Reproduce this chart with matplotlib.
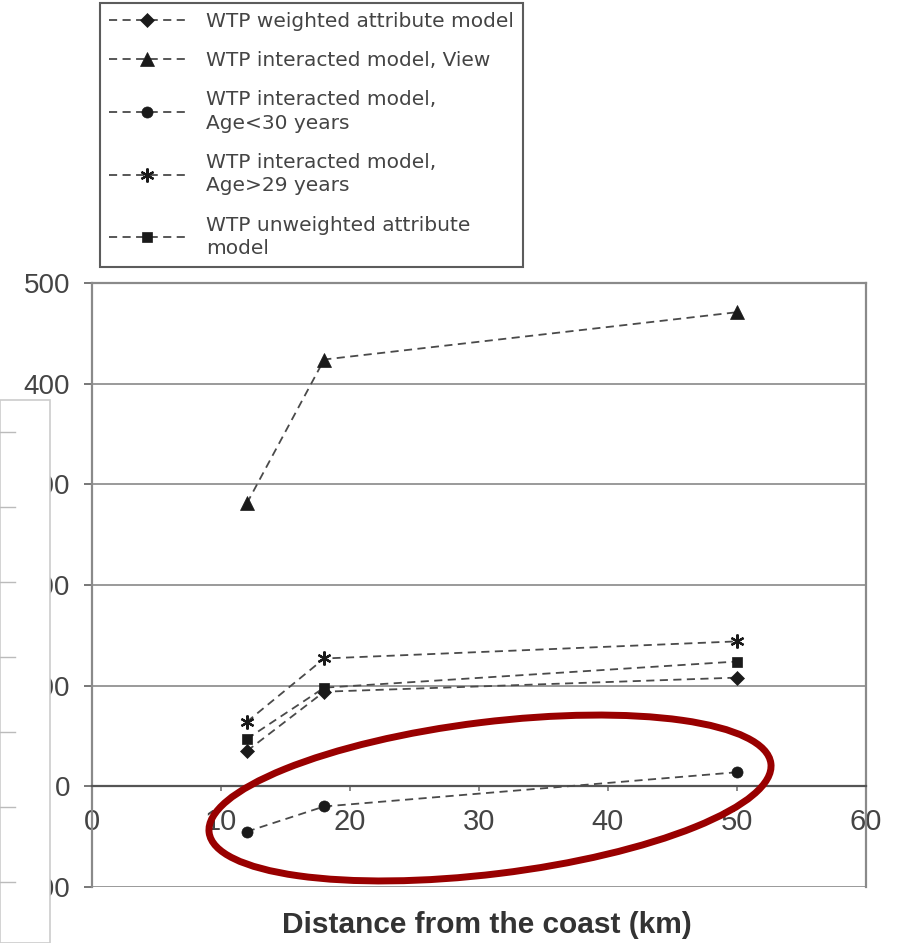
import matplotlib
matplotlib.use("Agg")
import matplotlib.pyplot as plt
from matplotlib.patches import Rectangle, Ellipse
from matplotlib.lines import Line2D

plt.rcParams['font.family'] = ['Liberation Sans', 'DejaVu Sans']

distance = [12, 18, 50]
wtp_weighted = [35, 94, 108]
wtp_view = [281, 424, 471]
wtp_age_lt30 = [-45, -20, 14]
wtp_age_gt29 = [64, 127, 144]
wtp_unweighted = [47, 98, 124]

labels = ["WTP weighted attribute model",
          "WTP interacted model, View",
          "WTP interacted model,\nAge<30 years",
          "WTP interacted model,\nAge>29 years",
          "WTP unweighted attribute\nmodel"]
series = [wtp_weighted, wtp_view, wtp_age_lt30, wtp_age_gt29, wtp_unweighted]
markers = ['D', '^', 'o', (6, 2, 0), 's']
msizes = [7.5, 9.5, 8, 10, 7]

xticks = [0, 10, 20, 30, 40, 50, 60]
yticks = [-100, 0, 100, 200, 300, 400, 500]

W, H = 902, 943
fig = plt.figure(figsize=(W / 100, H / 100), dpi=100)
ax = fig.add_axes([92 / W, 1 - 887 / H, (866 - 92) / W, (887 - 283) / H])

handles = []
for ys, lab, m, ms in zip(series, labels, markers, msizes):
    h, = ax.plot(distance, ys, linestyle=(0, (4.5, 3)), color='#4a4a4a', lw=1.3,
                 marker=m, markersize=ms, markerfacecolor='#1a1a1a',
                 markeredgecolor='#1a1a1a', markeredgewidth=1.6 if m == (6, 2, 0) else 0.5,
                 label=lab, zorder=3)
    handles.append(h)

ax.set_xlim(0, 60)
ax.set_ylim(-100, 500)
ax.set_xticks(xticks)
ax.set_yticks(yticks)
ax.grid(axis='y', color='#9a9a9a', lw=1.4)
ax.set_axisbelow(True)
for s in ['left', 'right', 'top']:
    ax.spines[s].set_color('#8a8a8a')
    ax.spines[s].set_linewidth(1.6)
ax.spines['bottom'].set_position(('data', 0))
ax.spines['bottom'].set_color('#555555')
ax.spines['bottom'].set_linewidth(1.6)
ax.tick_params(axis='x', direction='out', length=3.6, width=1.2, color='#777777',
               labelsize=21, labelcolor='#444444', pad=12)
ax.tick_params(axis='y', direction='out', length=5.8, width=1.4, color='#777777',
               labelsize=20, labelcolor='#444444', pad=10)
ax.set_xlabel("Distance from the coast (km)", fontsize=21.5, fontweight='bold',
              color='#333333', labelpad=0, va='center')
ax.xaxis.set_label_coords(0.51, (887 - 925) / 604)

leg = fig.legend(handles=handles, labels=labels, loc='upper left',
                 bbox_to_anchor=(100 / W, 1 - 3 / H), borderaxespad=0,
                 prop={'family': 'DejaVu Sans', 'size': 14.5},
                 frameon=True, fancybox=False, edgecolor='#333333',
                 handlelength=3.8, handletextpad=1.0, labelspacing=1.0,
                 borderpad=0.45, labelcolor='#444444')
leg.get_frame().set_linewidth(1.5)
for t in leg.get_texts():
    t.set_linespacing(1.3)

# overlapping white panel at left
fig.add_artist(Rectangle((0, 0), 50 / W, 1 - 400 / H, transform=fig.transFigure,
                         facecolor='white', edgecolor='#cccccc', lw=1.2, zorder=10))
for py in [432, 507, 582, 657, 732, 807, 882]:
    fig.add_artist(Line2D([0, 15 / W], [1 - py / H, 1 - py / H], transform=fig.transFigure,
                          color='#bbbbbb', lw=1.0, zorder=11))

# red highlight ellipse
fig.add_artist(Ellipse((4.90, (H - 798) / 100), 5.66, 1.52, angle=7,
                       transform=fig.dpi_scale_trans, fill=False,
                       edgecolor='#990000', lw=5, zorder=12))

fig.savefig("out.png", dpi=100)
